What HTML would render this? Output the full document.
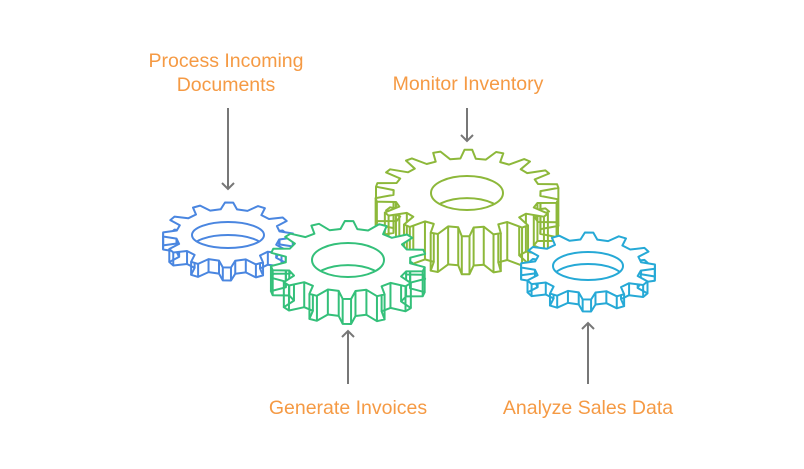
<!DOCTYPE html>
<html><head><meta charset="utf-8"><style>
html,body{margin:0;padding:0;background:#fff;}
svg{display:block;}
text{font-family:"Liberation Sans",Arial,sans-serif;font-size:19.5px;fill:#F59A44;}
</style></head><body>
<svg id="s" width="804" height="469" viewBox="0 0 804 469" xmlns="http://www.w3.org/2000/svg">
<defs></defs>
<g id="gears"></g>
<text x="226" y="67" text-anchor="middle">Process Incoming</text>
<text x="226" y="91" text-anchor="middle">Documents</text>
<text x="468" y="90" text-anchor="middle">Monitor Inventory</text>
<text x="348" y="414" text-anchor="middle">Generate Invoices</text>
<text x="588" y="414" text-anchor="middle">Analyze Sales Data</text>
<g stroke="#777" stroke-width="2" fill="none">
<line x1="228" y1="108" x2="228" y2="189"/><polyline points="222,183 228,189 234,183"/>
<line x1="467" y1="108" x2="467" y2="141"/><polyline points="461,135 467,141 473,135"/>
<line x1="348" y1="384" x2="348" y2="331"/><polyline points="342,337 348,331 354,337"/>
<line x1="588" y1="384" x2="588" y2="323"/><polyline points="582,329 588,323 594,329"/>
</g>
</svg>
<script>
(function(){
var NS="http://www.w3.org/2000/svg";
var g=document.getElementById('gears');
var defs=document.querySelector('defs');
function el(n,a,p){var e=document.createElementNS(NS,n);for(var k in a)e.setAttribute(k,a[k]);(p||g).appendChild(e);return e;}
var id=0;
function gear(cx,cy,R,k,n,h,col,hrx,hry,off){
  var p=2*Math.PI/n, r=0.8*R, pts=[];
  for(var i=0;i<n;i++){
    var a=off+i*p;
    [[a,r],[a+0.18*p,R],[a+0.42*p,R],[a+0.6*p,r]].forEach(function(v){
      pts.push([cx+v[1]*Math.cos(v[0]),cy+v[1]*k*Math.sin(v[0]),Math.sin(v[0])]);
    });
  }
  var top=pts.map(function(q){return q[0].toFixed(1)+','+q[1].toFixed(1);}).join(' ');
  var bot=pts.map(function(q){return q[0].toFixed(1)+','+(q[1]+h).toFixed(1);}).join(' ');
  var st={fill:'#fff',stroke:col,'stroke-width':2,'stroke-linejoin':'round'};
  el('polygon',Object.assign({points:bot},st));
  pts.forEach(function(q){ if(q[2]>-0.15) el('line',{x1:q[0],y1:q[1],x2:q[0],y2:q[1]+h,stroke:col,'stroke-width':2});});
  el('polygon',Object.assign({points:top},st));
  id++;
  var cp=el('clipPath',{id:'c'+id},defs);
  el('ellipse',{cx:cx,cy:cy,rx:hrx,ry:hry},cp);
  el('ellipse',{cx:cx,cy:cy,rx:hrx,ry:hry,fill:'#fff',stroke:col,'stroke-width':2});
  el('ellipse',{cx:cx,cy:cy+Math.min(h,hry*1.3),rx:hrx,ry:hry,fill:'none',stroke:col,'stroke-width':2,'clip-path':'url(#c'+id+')'});
}
gear(467,193,92,0.47,18,38,'#8DB83A',36,17,-Math.PI/2-0.09);
gear(228,235,65,0.5,12,13,'#4A86E0',36,13,-Math.PI/2-0.14);
gear(348,260,78,0.5,14,25,'#34C07A',36,17,-Math.PI/2-0.12);
gear(588,266,67,0.5,12,12,'#26A9D6',35,14,-Math.PI/2-0.14);
})();
</script>
</body></html>
